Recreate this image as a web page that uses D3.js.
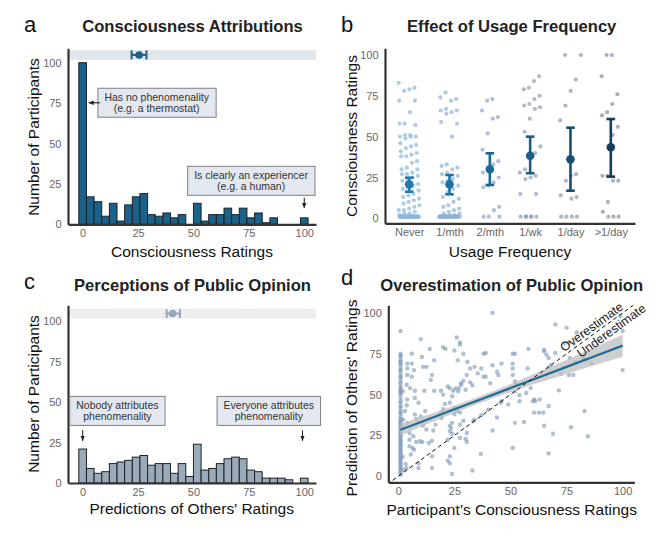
<!DOCTYPE html>
<html>
<head>
<meta charset="utf-8">
<script src="https://cdn.jsdelivr.net/npm/d3@7"></script>
<style>
  body { margin: 0; background: #fff; }
  svg text { font-family: "Liberation Sans", Arial, sans-serif; }
</style>
</head>
<body>
<div id="chart"></div>
<script>
// ---- data ----
const attributionCounts = [100, 17, 14, 5, 13, 2, 12, 17, 19, 6, 5, 7, 4, 6, 0,
  13, 2, 6, 6, 10, 6, 10, 4, 7, 1, 4, 0, 0, 0, 4];
const predictionCounts = [21, 9, 6, 7, 12, 13, 14, 16, 17, 11, 12, 12, 6, 12, 4,
  24, 8, 9, 12, 15, 16, 15, 8, 7, 3, 3, 3, 2, 0, 3];
const attributionSummary = [25.5, 22.1, 28.8];   // mean, low, high
const predictionSummary = [40.6, 37.9, 43.9];

const usageLevels = ["Never", "1/mth", "2/mth", "1/wk", "1/day", ">1/day"];
const usageMeans = [20.8, 20.8, 30.0, 38.3, 36.1, 43.5];
const usageLower = [16.3, 14.7, 20.4, 27.6, 16.9, 25.5];
const usageUpper = [24.9, 26.5, 39.8, 50.0, 55.5, 60.8];

const ratingsNever = [83, 80, 79, 78, 72, 72, 65, 58, 58, 57, 51, 51, 50, 50, 50, 49,
  46, 45, 44, 43, 41, 40, 39, 38, 38, 35, 34, 31, 30, 30, 28, 27, 27, 26, 25, 24, 23,
  21, 20, 19, 18, 17, 15, 14, 13, 12, 11, 10, 9, 8, 7, 6, 5, 5, 4, 3, 3, 2,
  1, 1, 1, 1, 1, 1, 1, 1, 1, 1, 1, 1, 1, 1, 1, 1, 1, 1, 1, 1,
  1, 1, 1, 1, 1, 1, 1, 1, 1, 1, 1, 1, 1, 1, 1, 1, 1, 1, 1, 1];
const ratingsMonthly = [77, 74, 73, 72, 67, 66, 66, 65, 64, 59, 58, 50, 33, 32, 31, 30,
  28, 27, 26, 24, 23, 22, 20, 18, 16, 13, 12, 10, 8, 7, 6, 5, 4, 3, 3, 2, 2,
  1, 1, 1, 1, 1, 1, 1, 1, 1, 1, 1, 1, 1, 1, 1, 1, 1, 1, 1, 1,
  1, 1, 1, 1, 1, 1, 1, 1, 1, 1, 1, 1, 1, 1];
const ratingsTwiceMonthly = [73, 72, 66, 62, 61, 52, 42, 35, 33, 30, 28, 25, 22, 20, 19,
  7, 5, 1, 1, 1];
const ratingsWeekly = [87, 84, 80, 79, 75, 73, 70, 69, 68, 67, 61, 53, 44, 40, 37, 30,
  28, 26, 25, 24, 15, 15, 1, 1, 1, 1, 1, 1];
const ratingsDaily = [100, 100, 85, 78, 69, 60, 27, 26, 23, 14, 13, 12, 1, 1, 1, 1];
const ratingsMultiDaily = [100, 100, 87, 76, 70, 65, 63, 56, 51, 26, 26, 23, 23, 10, 4,
  1, 1, 1];
const usageRatings = [ratingsNever, ratingsMonthly, ratingsTwiceMonthly,
  ratingsWeekly, ratingsDaily, ratingsMultiDaily];

// [own rating, predicted others' rating]
const ratingPairs = [
  [1, 89], [1, 75], [1, 74], [1, 73], [1, 71], [1, 70], [1, 69], [1, 68], [1, 66],
  [1, 65], [1, 64], [1, 62], [1, 61], [1, 60], [1, 58], [1, 57], [1, 55], [1, 54],
  [1, 53], [1, 52], [1, 51], [1, 50], [1, 48], [1, 46], [1, 45], [1, 43], [1, 42],
  [1, 40], [1, 39], [1, 38], [1, 36], [1, 35], [1, 34], [1, 33], [1, 32], [1, 31],
  [1, 30], [1, 29], [1, 28], [1, 27], [1, 26], [1, 25], [1, 24], [1, 23], [1, 22],
  [1, 21], [1, 20], [1, 19], [1, 18], [1, 17], [1, 16], [1, 15], [1, 14], [1, 13],
  [1, 12], [1, 11], [1, 10], [1, 9], [1, 8], [1, 7], [1, 6], [1, 5], [1, 4], [1, 3],
  [1, 2], [1, 1], [2, 52], [2, 30], [2, 12],
  [42, 100], [10, 84], [26, 85], [27.5, 82], [27.5, 80.6], [20, 79], [21, 78], [14, 78],
  [25, 77], [29, 75], [39, 75.5], [51, 75], [52, 75], [58, 78], [70, 93], [75, 91],
  [79.5, 88], [76, 82], [74, 81.6], [65, 77.5], [65, 76.5], [66, 74.5], [67, 72.4],
  [70, 75.5], [6, 75], [6, 69], [4, 69], [10.5, 73], [16, 71], [11, 67], [12.6, 67],
  [7, 65], [6, 61], [15, 62], [14.5, 59], [7.4, 52.4], [11.6, 52.4], [16, 52.4],
  [19, 52.4], [20, 50], [24, 49], [22, 55], [23, 54], [24.5, 52.4], [26.7, 52], [28, 57],
  [26.5, 71], [30.8, 70], [32, 66], [30.5, 62], [34, 67], [35.4, 63], [37, 66], [38, 61],
  [39, 61], [42, 68], [44, 64], [46, 69], [41, 57], [44.6, 62], [38, 75], [51, 69],
  [51, 66], [51, 62], [52, 58], [52.7, 56], [57.6, 66], [59, 54], [57, 51], [60.6, 47],
  [60, 46], [54, 46], [54, 49.6], [52, 52], [61, 46], [63, 47], [60.5, 39], [62.7, 39],
  [64.6, 39], [67, 43], [65, 31], [67, 14], [69, 26], [71.6, 52.6], [67, 66.7], [68, 68],
  [72.5, 62.7], [73, 66], [76, 62], [78, 62], [76.5, 72.4], [79, 70], [82.5, 72.4],
  [83.5, 71], [86, 69], [83, 40], [84.5, 24.5], [77, 30], [100, 89], [100, 65], [99, 98],
  [32, 57.5], [33, 55.7], [29, 58.5], [28, 56], [27, 54], [30, 53], [25.5, 53.7],
  [20.8, 44.3], [23, 45], [25, 42], [25, 38], [26, 40], [27.5, 39], [29, 34], [27.5, 31.6],
  [24, 32.7], [23, 31], [23.5, 29.6], [23, 27.6], [24, 26], [22, 22.4], [25, 17.3],
  [23, 12.2], [22, 9.6], [23, 8], [24, 1.4], [30.5, 26.5], [30, 23], [30.5, 21],
  [27.5, 23.5], [33, 3.5], [33.4, 33.7], [34, 34.7], [37, 37.3], [36.8, 13.7], [40, 40.8],
  [42, 28], [44, 36], [45.6, 45], [46, 46], [49, 44], [51, 17.3], [52, 32.7], [56, 33.3],
  [20, 41], [19, 39], [16.6, 31.6], [15.6, 28], [15, 21.8], [13.7, 20.4], [15, 12.2],
  [15, 5], [12.5, 28.6], [11, 31], [12, 40], [10, 36.7], [7.4, 37.8], [8, 35], [6.7, 24.5],
  [5, 22.4], [5, 18.4], [6.4, 17.3], [7, 16.3], [8, 21], [5, 26.5], [4, 32.7], [2.2, 34.7],
  [3.7, 56], [4, 47], [3.7, 43.5], [3, 40], [3.3, 7.5], [3.7, 5], [2.5, 4], [5.6, 13.3],
  [9, 8], [9, 5], [9.7, 21.4], [10.7, 21], [9, 45], [7.4, 48], [5.2, 54], [4, 62], [4, 66],
  [19.3, 35.7]
];
const fitX = [1, 12.5, 25, 37.5, 50, 62.5, 75, 87.5, 100];
const fitY = [28.5, 34.5, 41, 47.5, 54, 60.5, 67, 73.5, 80];
const fitLow = [24.8, 31.7, 38.8, 45.4, 51.5, 57.2, 62.7, 68, 73.2];
const fitHigh = [32.2, 37.3, 43.2, 49.6, 56.5, 63.8, 71.3, 79, 86.8];

const xTicks = [0, 25, 50, 75, 100];

// ---- drawing ----
const svg = d3.select("#chart").append("svg")
  .attr("width", 670)
  .attr("height", 536);

const axisColor = "#333";
const tickColor = "#666";

function styleAxis(g) {
  g.select(".domain").attr("stroke", axisColor).attr("stroke-width", 2.2);
  g.selectAll(".tick text").attr("fill", tickColor).attr("font-size", 11);
  g.selectAll(".tick line").remove();
}

function drawAxes(x, y, box) {
  svg.append("g")
    .attr("transform", `translate(0,${box.bottom})`)
    .call(d3.axisBottom(x).tickValues(xTicks).tickSize(0).tickSizeOuter(0).tickPadding(5))
    .call(styleAxis);
  svg.append("g")
    .attr("transform", `translate(${box.left},0)`)
    .call(d3.axisLeft(y).tickValues(xTicks).tickSize(0).tickSizeOuter(0).tickPadding(6.5))
    .call(styleAxis);
}

function titles(p) {
  svg.append("text")
    .attr("x", p.letterX).attr("y", p.letterY)
    .attr("font-size", 22).attr("fill", "#111")
    .text(p.letter);
  svg.append("text")
    .attr("x", p.titleX).attr("y", p.titleY)
    .attr("text-anchor", "middle")
    .attr("font-size", 16.6).attr("font-weight", "bold").attr("fill", "#222")
    .text(p.title);
  svg.append("text")
    .attr("x", p.xTitleX).attr("y", p.xTitleY)
    .attr("text-anchor", "middle")
    .attr("font-size", 15.5).attr("fill", "#111")
    .text(p.xTitle);
  svg.append("text")
    .attr("transform", `translate(${p.yTitleX},${p.yTitleY}) rotate(-90)`)
    .attr("text-anchor", "middle")
    .attr("font-size", 15.5).attr("fill", "#111")
    .text(p.yTitle);
}

svg.append("defs").append("marker")
  .attr("id", "arrow")
  .attr("viewBox", "0 0 10 10")
  .attr("refX", 9).attr("refY", 5)
  .attr("markerWidth", 5).attr("markerHeight", 5)
  .attr("orient", "auto")
  .append("path")
  .attr("d", "M0,1 L10,5 L0,9 Z")
  .attr("fill", "#222");

function labelBox(cx, cy, lines) {
  const g = svg.append("g");
  const rect = g.append("rect");
  const t = g.append("text")
    .attr("text-anchor", "middle")
    .attr("font-size", 10.5)
    .attr("fill", "#333");
  lines.forEach((s, i) => {
    t.append("tspan")
      .attr("x", cx)
      .attr("y", cy + (i - (lines.length - 1) / 2) * 11.5)
      .attr("dy", "0.35em")
      .text(s);
  });
  const bb = t.node().getBBox();
  rect.attr("x", bb.x - 6.5).attr("y", cy - 14.5)
    .attr("width", bb.width + 13).attr("height", 29)
    .attr("fill", "#e3e8f0").attr("stroke", "#808080").attr("stroke-width", 1);
}

function arrow(x1, y1, x2, y2) {
  svg.append("line")
    .attr("x1", x1).attr("y1", y1).attr("x2", x2).attr("y2", y2)
    .attr("stroke", "#222").attr("stroke-width", 1.1)
    .attr("marker-end", "url(#arrow)");
}

function histogram(p) {
  const x = d3.scaleLinear().domain([-6.6, 105.3]).range([p.left, p.right]);
  const y = d3.scaleLinear().domain([0, p.yMax]).range([p.bottom, p.top]);
  const bw = 100 / (p.counts.length - 1);

  svg.append("rect")
    .attr("x", p.left).attr("width", p.right - p.left)
    .attr("y", y(107.8)).attr("height", y(101.7) - y(107.8))
    .attr("fill", p.bandColor);

  const bars = p.counts.map((c, i) => ({ c, mid: i * bw })).filter(d => d.c > 0);
  svg.append("g").selectAll("rect")
    .data(bars)
    .join("rect")
    .attr("x", d => x(d.mid - bw / 2))
    .attr("width", x(bw) - x(0))
    .attr("y", d => y(d.c))
    .attr("height", d => y(0) - y(d.c))
    .attr("fill", p.fill)
    .attr("stroke", "#1c2228")
    .attr("stroke-width", 1);

  const [m, lo, hi] = p.summary;
  const yc = y(104.8);
  const eg = svg.append("g").attr("stroke", p.meanColor).attr("stroke-width", 2);
  eg.append("line").attr("x1", x(lo)).attr("x2", x(hi)).attr("y1", yc).attr("y2", yc);
  eg.append("line").attr("x1", x(lo)).attr("x2", x(lo)).attr("y1", yc - 4.5).attr("y2", yc + 4.5);
  eg.append("line").attr("x1", x(hi)).attr("x2", x(hi)).attr("y1", yc - 4.5).attr("y2", yc + 4.5);
  svg.append("circle").attr("cx", x(m)).attr("cy", yc).attr("r", 3.8).attr("fill", p.meanColor);

  drawAxes(x, y, p);
  return { x, y };
}

// panel a
const a = histogram({
  left: 68, right: 316, top: 48.3, bottom: 224.3, yMax: 108.9,
  counts: attributionCounts, summary: attributionSummary,
  fill: "#1c6188", bandColor: "#e2e6ed", meanColor: "#1c6188"
});
labelBox(a.x(33.4), a.y(75.2), ["Has no phenomenality", "(e.g. a thermostat)"]);
arrow(a.x(7.8), a.y(75.2), a.x(2.8), a.y(75.2));
labelBox(a.x(76), a.y(26.9), ["Is clearly an experiencer", "(e.g. a human)"]);
arrow(a.x(100), a.y(16.5), a.x(100), a.y(10.2));
titles({
  letter: "a", letterX: 24, letterY: 31.5,
  title: "Consciousness Attributions", titleX: 192.5, titleY: 31.5,
  xTitle: "Consciousness Ratings", xTitleX: 192, xTitleY: 256.5,
  yTitle: "Number of Participants", yTitleX: 38.5, yTitleY: 137
});

// panel c
const c = histogram({
  left: 68, right: 316, top: 305.3, bottom: 483, yMax: 109.9,
  counts: predictionCounts, summary: predictionSummary,
  fill: "#9aaab8", bandColor: "#eeeeee", meanColor: "#96a9ba"
});
labelBox(c.x(15.7), c.y(44.6), ["Nobody attributes", "phenomenality"]);
arrow(c.x(0), c.y(32.6), c.x(0), c.y(26.2));
labelBox(c.x(84), c.y(44.6), ["Everyone attributes", "phenomenality"]);
arrow(c.x(99.2), c.y(32.6), c.x(99.2), c.y(26.2));
titles({
  letter: "c", letterX: 24, letterY: 289,
  title: "Perceptions of Public Opinion", titleX: 192.5, titleY: 290.7,
  xTitle: "Predictions of Others' Ratings", xTitleX: 191.7, xTitleY: 514,
  yTitle: "Number of Participants", yTitleX: 38.5, yTitleY: 394
});

// panel b
(function () {
  const box = { left: 385, right: 635, top: 48.3, bottom: 223.3 };
  const x = d3.scalePoint().domain(usageLevels).range([box.left, box.right]).padding(0.6);
  const y = d3.scaleLinear().domain([-3.06, 104.1]).range([box.bottom, box.top]);
  const meanColors = ["#2479b0", "#1f70a3", "#1d6895", "#1b5e84", "#184f71", "#143f5c"];
  const pointColors = ["#8db7dc", "#8fb0d4", "#8da4c4", "#8d9cba", "#8b95af", "#878ea6"];
  const step = x.step();

  usageRatings.forEach((vals, g) => {
    const lvl = usageLevels[g];
    svg.append("g").selectAll("circle")
      .data(vals)
      .join("circle")
      .attr("cx", (d, i) => x(lvl) + (((i * 0.7548777 + g * 0.31) % 1) - 0.5) * 0.52 * step)
      .attr("cy", d => y(d))
      .attr("r", 2.1)
      .attr("fill", pointColors[g])
      .attr("fill-opacity", 0.7);
  });

  usageLevels.forEach((lvl, g) => {
    const cx = x(lvl);
    const eg = svg.append("g").attr("stroke", meanColors[g]).attr("stroke-width", 2.6);
    eg.append("line").attr("x1", cx).attr("x2", cx).attr("y1", y(usageLower[g])).attr("y2", y(usageUpper[g]));
    eg.append("line").attr("x1", cx - 4.3).attr("x2", cx + 4.3).attr("y1", y(usageLower[g])).attr("y2", y(usageLower[g]));
    eg.append("line").attr("x1", cx - 4.3).attr("x2", cx + 4.3).attr("y1", y(usageUpper[g])).attr("y2", y(usageUpper[g]));
    svg.append("circle").attr("cx", cx).attr("cy", y(usageMeans[g])).attr("r", 4.3).attr("fill", meanColors[g]);
  });

  svg.append("g")
    .attr("transform", `translate(0,${box.bottom})`)
    .call(d3.axisBottom(x).tickSize(0).tickSizeOuter(0).tickPadding(5))
    .call(styleAxis);
  svg.append("g")
    .attr("transform", `translate(${box.left},0)`)
    .call(d3.axisLeft(y).tickValues(xTicks).tickSize(0).tickSizeOuter(0).tickPadding(6.5))
    .call(styleAxis);

  titles({
    letter: "b", letterX: 341, letterY: 31.5,
    title: "Effect of Usage Frequency", titleX: 511.7, titleY: 31.5,
    xTitle: "Usage Frequency", xTitleX: 510, xTitleY: 256.5,
    yTitle: "Consciousness Ratings", yTitleX: 356.5, yTitleY: 136
  });
})();

// panel d
(function () {
  const box = { left: 388.3, right: 634.3, top: 305.3, bottom: 482.3 };
  const x = d3.scaleLinear().domain([-4.46, 105.2]).range([box.left, box.right]);
  const y = d3.scaleLinear().domain([-3.7, 104.7]).range([box.bottom, box.top]);

  svg.append("clipPath").attr("id", "clip-d")
    .append("rect")
    .attr("x", box.left).attr("y", box.top)
    .attr("width", box.right - box.left).attr("height", box.bottom - box.top);

  svg.append("g").selectAll("circle")
    .data(ratingPairs)
    .join("circle")
    .attr("cx", d => x(d[0]))
    .attr("cy", d => y(d[1]))
    .attr("r", 2.2)
    .attr("fill", "#7f9ab8")
    .attr("fill-opacity", 0.62);

  const fit = fitX.map((v, i) => ({ x: v, y: fitY[i], lo: fitLow[i], hi: fitHigh[i] }));
  svg.append("path")
    .datum(fit)
    .attr("d", d3.area().x(d => x(d.x)).y0(d => y(d.lo)).y1(d => y(d.hi)).curve(d3.curveMonotoneX))
    .attr("fill", "#bfbfbf")
    .attr("fill-opacity", 0.75);
  svg.append("path")
    .datum(fit)
    .attr("d", d3.line().x(d => x(d.x)).y(d => y(d.y)))
    .attr("fill", "none")
    .attr("stroke", "#1f6d96")
    .attr("stroke-width", 2.2);

  svg.append("line")
    .attr("clip-path", "url(#clip-d)")
    .attr("x1", x(-5)).attr("y1", y(-5))
    .attr("x2", x(106)).attr("y2", y(106))
    .attr("stroke", "#111").attr("stroke-width", 1)
    .attr("stroke-dasharray", "4,3");

  const ang = Math.atan2(y(0) - y(100), x(100) - x(0)) * 180 / Math.PI;
  const nx = -Math.sin(ang * Math.PI / 180), ny = -Math.cos(ang * Math.PI / 180);
  [["Overestimate", 88, 7], ["Underestimate", 93, -7.5]].forEach(([s, t, off]) => {
    svg.append("text")
      .attr("transform", `translate(${x(t) + nx * off},${y(t) + ny * off}) rotate(${-ang})`)
      .attr("text-anchor", "middle")
      .attr("dy", "0.35em")
      .attr("font-size", 12.5)
      .attr("fill", "#222")
      .text(s);
  });

  drawAxes(x, y, box);

  titles({
    letter: "d", letterX: 341, letterY: 285,
    title: "Overestimation of Public Opinion", titleX: 511.7, titleY: 291,
    xTitle: "Participant\u2019s Consciousness Ratings", xTitleX: 511.7, xTitleY: 515,
    yTitle: "Prediction of Others' Ratings", yTitleX: 356.5, yTitleY: 398
  });
})();
</script>
</body>
</html>
